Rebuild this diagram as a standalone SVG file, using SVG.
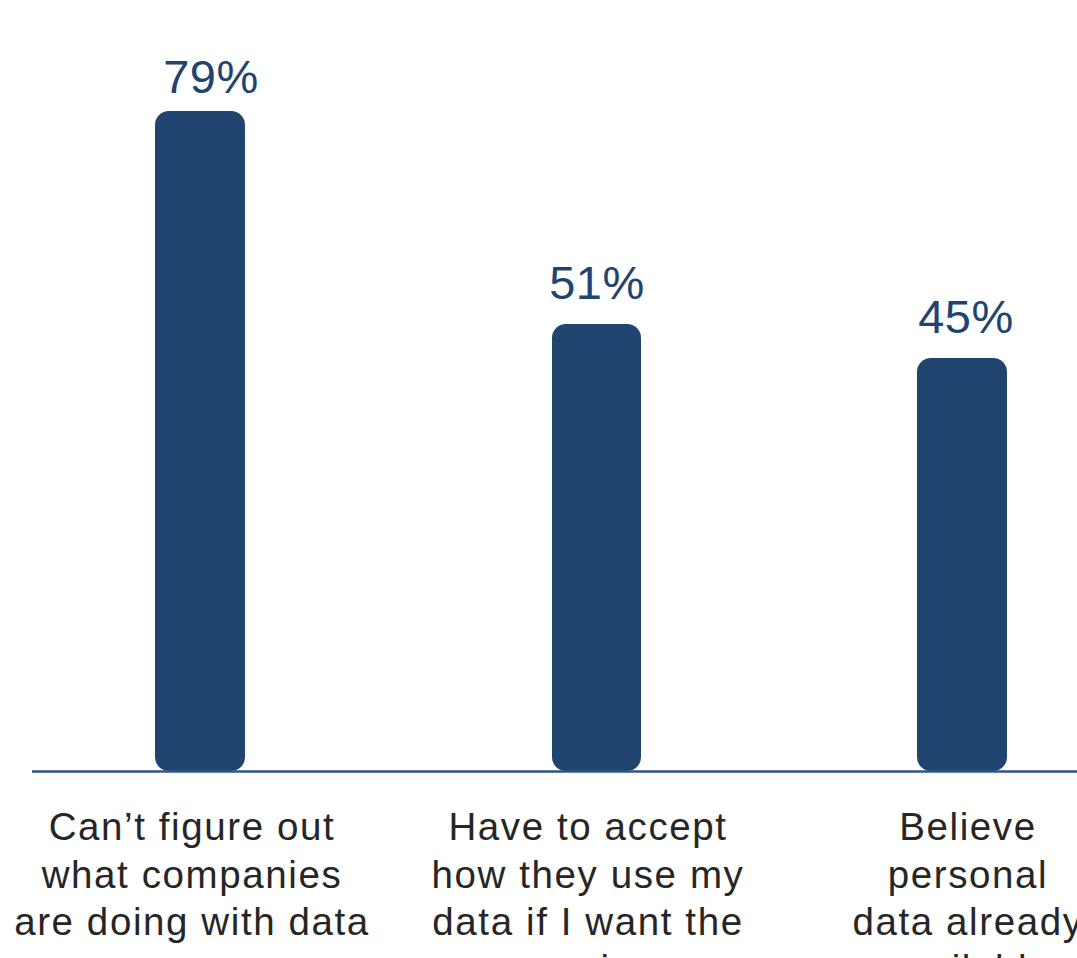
<svg xmlns="http://www.w3.org/2000/svg" width="1077" height="958" viewBox="0 0 1077 958">
<style>
.bar{fill:#1f4470}
.val{font-family:"Liberation Sans",Arial,sans-serif;font-size:47px;fill:#1f4470;text-anchor:middle;letter-spacing:0.5px}
.cat{font-family:"Liberation Sans",Arial,sans-serif;font-size:38.5px;fill:#262626;text-anchor:middle;letter-spacing:1.6px}
</style>
<rect width="1077" height="958" fill="#ffffff"/>
<g id="bar1">
<rect class="bar" x="155" y="111" width="90" height="660" rx="14"/>
<text class="val" x="211" y="93">79%</text>
<text class="cat" x="192" y="840">Can’t figure out</text>
<text class="cat" x="192" y="888">what companies</text>
<text class="cat" x="192" y="935">are doing with data</text>
</g>
<g id="bar2">
<rect class="bar" x="552" y="324" width="89" height="447" rx="14"/>
<text class="val" x="597" y="299">51%</text>
<text class="cat" x="588" y="840">Have to accept</text>
<text class="cat" x="588" y="888">how they use my</text>
<text class="cat" x="588" y="935">data if I want the</text>
<text class="cat" x="588" y="982">service</text>
</g>
<g id="bar3">
<rect class="bar" x="917" y="358" width="90" height="413" rx="14"/>
<text class="val" x="966" y="333">45%</text>
<text class="cat" x="968" y="840">Believe</text>
<text class="cat" x="968" y="888">personal</text>
<text class="cat" x="968" y="935">data already</text>
<text class="cat" x="968" y="982">available</text>
</g>
<g id="connectors">
<line x1="32" y1="771.5" x2="1077" y2="771.5" stroke="#2f5587" stroke-width="2.5"/>
</g>
</svg>
